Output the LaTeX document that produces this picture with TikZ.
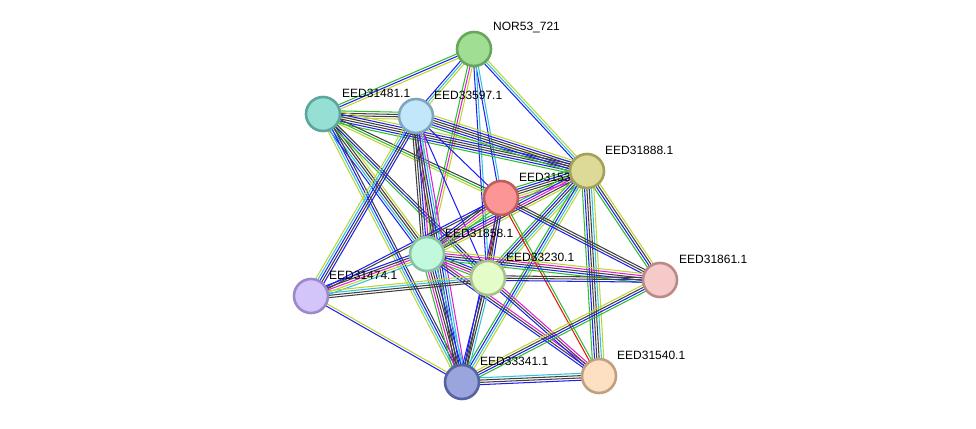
\documentclass[tikz,border=0pt]{standalone}
\usepackage{fontspec}
\setmainfont{Liberation Sans}
\usetikzlibrary{calc,backgrounds}

\definecolor{strgreen}{HTML}{2CC02C}
\definecolor{strblue}{HTML}{2020F0}
\definecolor{strcyan}{HTML}{30C0E0}
\definecolor{strmag}{HTML}{E020D8}
\definecolor{stryel}{HTML}{C0D430}
\definecolor{strblack}{HTML}{404040}
\definecolor{strred}{HTML}{F01010}
% node colours
\definecolor{norfill}{HTML}{A0DF93}\definecolor{nordraw}{HTML}{68A65C}
\definecolor{tealfill}{HTML}{96DFD4}\definecolor{tealdraw}{HTML}{5EA59C}
\definecolor{skyfill}{HTML}{C2E7FA}\definecolor{skydraw}{HTML}{80A6BE}
\definecolor{khakifill}{HTML}{DDDA97}\definecolor{khakidraw}{HTML}{A3A05A}
\definecolor{redfill}{HTML}{FC9595}\definecolor{reddraw}{HTML}{C05E5E}
\definecolor{mintfill}{HTML}{C2F8DC}\definecolor{mintdraw}{HTML}{88C2A2}
\definecolor{limefill}{HTML}{E3FCC8}\definecolor{limedraw}{HTML}{A9C28C}
\definecolor{lavfill}{HTML}{D3C5FA}\definecolor{lavdraw}{HTML}{9A8AC8}
\definecolor{pinkfill}{HTML}{F7CACA}\definecolor{pinkdraw}{HTML}{BA8A8A}
\definecolor{perifill}{HTML}{9AA5DE}\definecolor{peridraw}{HTML}{5563A3}
\definecolor{peachfill}{HTML}{FDDFC2}\definecolor{peachdraw}{HTML}{C0A080}

% bundle of parallel evidence lines between two proteins
\newcommand\edgebundle[3]{%
  \gdef\nlines{0}%
  \foreach \c in {#3}{\pgfmathtruncatemacro\tmp{\nlines+1}\global\let\nlines\tmp}%
  \foreach \c [count=\i] in {#3}{%
    \pgfmathsetmacro\off{(\i-(\nlines+1)/2)*2.3}%
    \draw[evline, \c] ($(#1)!\off pt!90:(#2)$) -- ($(#2)!\off pt!-90:(#1)$);
  }%
}

\begin{document}
\begin{tikzpicture}[
  x=1pt, y=-1pt,
  font=\fontsize{12}{14}\selectfont,
  % Styles
  protein/.style={circle, line width=2.6pt, minimum size=34pt, inner sep=0pt},
  plabel/.style={anchor=west, inner sep=1pt},
  evline/.style={line width=1.05pt},
]
\useasboundingbox (0,0) rectangle (976,428);

% === Proteins ===
\node[protein, draw=nordraw, fill=norfill] (nor) at (474,49) {};
\node[plabel] (nor-l) at (492,28) {NOR53\_721};
\node[protein, draw=tealdraw, fill=tealfill] (e31481) at (323,114) {};
\node[plabel] (e31481-l) at (341,93) {EED31481.1};
\node[protein, draw=skydraw, fill=skyfill] (e33597) at (416,116) {};
\node[plabel] (e33597-l) at (433,95) {EED33597.1};
\node[protein, draw=reddraw, fill=redfill] (e3153) at (501,198) {};
\node[plabel] (e3153-l) at (518,177) {EED31531.1};
\node[protein, draw=khakidraw, fill=khakifill] (e31888) at (587,171) {};
\node[plabel] (e31888-l) at (604,150) {EED31888.1};
\node[protein, draw=mintdraw, fill=mintfill] (e31858) at (427,254) {};
\node[plabel] (e31858-l) at (444,233) {EED31858.1};
\node[protein, draw=limedraw, fill=limefill] (e33230) at (488,278) {};
\node[plabel] (e33230-l) at (505,257) {EED33230.1};
\node[protein, draw=lavdraw, fill=lavfill] (e31474) at (311,296) {};
\node[plabel] (e31474-l) at (328,275) {EED31474.1};
\node[protein, draw=pinkdraw, fill=pinkfill] (e31861) at (660,280) {};
\node[plabel] (e31861-l) at (678,259) {EED31861.1};
\node[protein, draw=peridraw, fill=perifill] (e33341) at (462,382) {};
\node[plabel] (e33341-l) at (479,361) {EED33341.1};
\node[protein, draw=peachdraw, fill=peachfill] (e31540) at (599,376) {};
\node[plabel] (e31540-l) at (616,355) {EED31540.1};

% === Evidence bundles ===
\begin{scope}[on background layer]
\edgebundle{nor}{e31481}{strgreen,strblue,stryel}
\edgebundle{nor}{e33597}{strblue,strcyan,stryel}
\edgebundle{nor}{e31888}{strblue,strcyan,stryel}
\edgebundle{nor}{e31858}{strgreen,strmag,stryel}
\edgebundle{nor}{e3153}{strblue,strcyan}
\edgebundle{nor}{e33230}{strblue,strcyan}
\edgebundle{e31481}{e33597}{stryel,strblack,strblack,strgreen}
\edgebundle{e31481}{e31888}{strgreen,strblue,strblack,strblack,strblue,stryel}
\edgebundle{e31481}{e3153}{stryel,strgreen,strblack}
\edgebundle{e31481}{e31858}{strblue,strcyan,strblack,strblack,stryel}
\edgebundle{e31481}{e33230}{strgreen,strblue,strblack}
\edgebundle{e31481}{e33341}{stryel,strcyan,strblue,strblack}
\edgebundle{e33597}{e31888}{strgreen,strblue,strblack,strblack,strblue,stryel}
\edgebundle{e33597}{e3153}{strblue}
\edgebundle{e33597}{e31858}{strblack,strblack,strblue,strmag,stryel}
\edgebundle{e33597}{e33230}{strblue}
\edgebundle{e33597}{e33341}{strblack,strblack,strblue,strcyan,strmag}
\edgebundle{e33597}{e31474}{stryel,strcyan,strblue,strblack,strblue}
\edgebundle{e31888}{e3153}{strgreen,strblue,strblack,strblack,stryel,strmag}
\edgebundle{e31888}{e31858}{strgreen,strblue,strmag,strblack,stryel}
\edgebundle{e31888}{e33230}{strgreen,strblue,strblack,strcyan,stryel}
\edgebundle{e31888}{e31861}{strgreen,strblue,strblack,stryel}
\edgebundle{e31888}{e31540}{strgreen,strblue,strblack,strblack,strcyan,stryel}
\edgebundle{e31888}{e33341}{strgreen,strblue,strcyan,stryel}
\edgebundle{e3153}{e31858}{strblue,strblack,strmag,stryel,strgreen}
\edgebundle{e3153}{e33230}{strred,strblack,strblue}
\edgebundle{e3153}{e31474}{strblue,strblack}
\edgebundle{e3153}{e31861}{strblue,strblack,strblack}
\edgebundle{e3153}{e31540}{strred,strgreen}
\edgebundle{e3153}{e33341}{strblue,strblack}
\edgebundle{e31858}{e33230}{strgreen,strmag,strblack,strblue}
\edgebundle{e31858}{e31474}{strblue,strblack,strmag,stryel,strcyan}
\edgebundle{e31858}{e31861}{strgreen,strblue,strblack,strmag,stryel}
\edgebundle{e31858}{e33341}{strgreen,strmag,strblack,strblack,strblue,strcyan}
\edgebundle{e31858}{e31540}{strblue,strblack,strmag}
\edgebundle{e33230}{e31474}{stryel,strcyan,strblack,strblack}
\edgebundle{e33230}{e31861}{strblue,strblack,strblack}
\edgebundle{e33230}{e33341}{strblue,strblack,strblack,strcyan}
\edgebundle{e33230}{e31540}{strblue,strblack,strmag}
\edgebundle{e31474}{e33341}{strblue,stryel}
\edgebundle{e33341}{e31540}{strblue,strblack,strblack,strcyan}
\edgebundle{e33341}{e31861}{strgreen,strblue,strblack,stryel}
\end{scope}

\end{tikzpicture}
\end{document}
